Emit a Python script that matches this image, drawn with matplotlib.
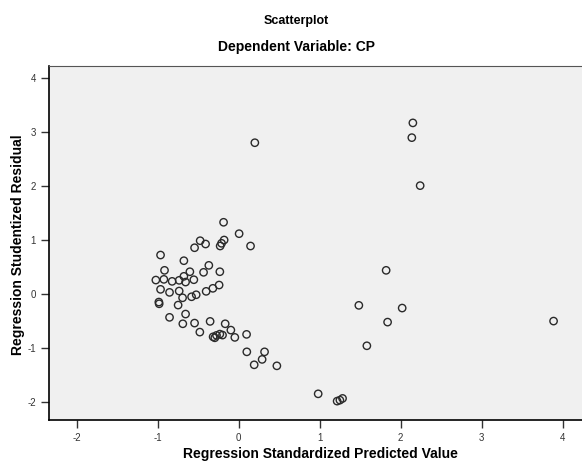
import matplotlib.pyplot as plt

plt.rcParams['font.family'] = ['Liberation Sans', 'DejaVu Sans']
plt.rcParams['axes.unicode_minus'] = False

# standardized predicted value (x) and studentized residual (y)
pred = [-0.185, 0.007, 0.148, -0.474, -0.407, -0.543, -0.178, -0.210, -0.227, -0.963,
        -0.675, -0.367, -0.914, -0.601, -0.432, -0.231, -0.675, -1.021, -0.922, -0.820,
        -0.733, -0.654, -0.552, -0.963, -0.852, -0.733, -0.691, -0.580, -0.523, -0.400,
        -0.317, -0.240, -0.984, -0.980, -0.746, -0.852, -0.654, -0.688, -0.543, -0.478,
        -0.351, -0.165, -0.095, -0.046, 0.099, -0.314, -0.272, -0.231, -0.198, -0.293,
        0.102, 0.321, 0.291, 0.193, 0.473,
        0.201, 2.152, 2.139, 2.242, 1.822, 1.485, 2.020, 1.840, 1.584, 3.889,
        0.983, 1.217, 1.284, 1.251]
resid = [1.328, 1.117, 0.889, 0.987, 0.926, 0.857, 1.000, 0.939, 0.889, 0.722,
         0.617, 0.531, 0.439, 0.413, 0.402, 0.413, 0.328, 0.259, 0.272, 0.235,
         0.254, 0.222, 0.265, 0.087, 0.031, 0.056, -0.069, -0.050, -0.013, 0.050,
         0.106, 0.167, -0.148, -0.180, -0.204, -0.431, -0.370, -0.550, -0.537, -0.704,
         -0.506, -0.550, -0.667, -0.802, -0.746, -0.791, -0.765, -0.741, -0.759, -0.809,
         -1.069, -1.069, -1.209, -1.309, -1.328,
         2.800, 3.167, 2.894, 2.006, 0.439, -0.209, -0.259, -0.519, -0.957, -0.500,
         -1.846, -1.981, -1.931, -1.963]

x_ticks = [-2, -1, 0, 1, 2, 3, 4]
y_ticks = [-2, -1, 0, 1, 2, 3, 4]

fig = plt.figure(figsize=(5.82, 4.63), dpi=100)
ax = fig.add_axes([0.0842, 0.0929, 0.9158, 0.7646])
ax.set_facecolor('#f0f0f0')

ax.scatter(pred, resid, s=28, facecolors='none', edgecolors='#2a2a2a', linewidths=1.0)

ax.set_xlim(-2.34, 4.24)
ax.set_ylim(-2.33, 4.22)
ax.set_xticks(x_ticks)
ax.set_yticks(y_ticks)
ax.tick_params(direction='out', length=6, width=1, labelsize=7, colors='#333333')

for side in ['left', 'bottom']:
    ax.spines[side].set_color('black')
    ax.spines[side].set_linewidth(1.2)
ax.spines['top'].set_color('#555555')
ax.spines['right'].set_visible(False)

fig.text(0.509, 1 - 21 / 463, 'Scatterplot', ha='center', va='center',
         fontsize=9, fontweight='bold')
fig.text(0.509, 1 - 47.5 / 463, 'Dependent Variable: CP', ha='center', va='center',
         fontsize=10, fontweight='bold')
fig.text(0.55, 1 - 454 / 463, 'Regression Standardized Predicted Value', ha='center',
         va='center', fontsize=10, fontweight='bold')
fig.text(18 / 582, 1 - 245 / 463, 'Regression Studentized Residual', ha='center',
         va='center', rotation=90, fontsize=10, fontweight='bold')

fig.savefig('out.png', dpi=100)
